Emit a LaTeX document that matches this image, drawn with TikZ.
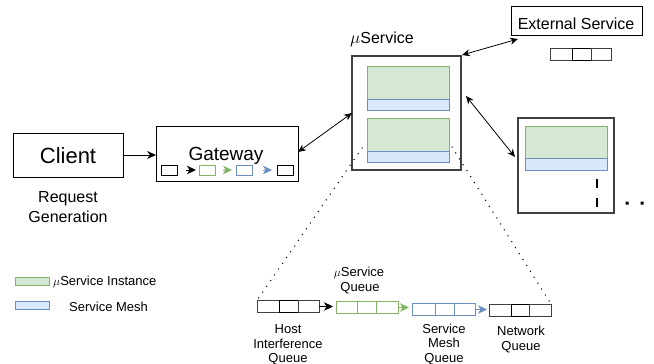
\documentclass[tikz,border=0pt]{standalone}
\usepackage{fontspec}
\setmainfont{Liberation Sans}
\usetikzlibrary{arrows.meta}
\definecolor{instfill}{HTML}{D5E8D4}
\definecolor{instline}{HTML}{82B366}
\definecolor{meshfill}{HTML}{DAE8FC}
\definecolor{meshline}{HTML}{6C8EBF}
\tikzset{
  fnt/.style={font=\fontsize{#1}{#1}\selectfont},
  box/.style={draw, line width=1pt, inner sep=0, outer sep=0},
  hostbox/.style={draw=black!75, line width=1.1pt, inner sep=0, outer sep=0},
  inst/.style={draw=instline, fill=instfill, line width=0.9pt, inner sep=0, outer sep=0, minimum width=82pt},
  mesh/.style={draw=meshline, fill=meshfill, line width=0.9pt, inner sep=0, outer sep=0, minimum width=82pt},
  cell/.style={draw=#1, line width=0.9pt, minimum height=12pt, inner sep=0, outer sep=0},
  gcell/.style={draw=#1, line width=0.9pt, minimum width=16pt, minimum height=10pt, inner sep=0, outer sep=0},
  link/.style={line width=0.8pt, {Stealth[length=8pt,width=7pt]}-{Stealth[length=8pt,width=7pt]}},
  flow/.style={draw=#1, line width=1pt, -{Stealth[length=9pt,width=8.5pt,inset=2.5pt]}},
  zoomline/.style={line width=1.5pt, line cap=round, dash pattern=on 0pt off 7pt},
  lbl/.style={inner sep=0, anchor=base},
}
\begin{document}
\begin{tikzpicture}[x=1pt, y=-1pt]
\useasboundingbox (0,0) rectangle (654,364);

% client and gateway
\node[box, minimum width=110pt, minimum height=44pt] (client) at (68,155) {};
\node[lbl, fnt=22] (clienttxt) at (68,163) {Client};
\node[lbl, fnt=16] (req1) at (68,202) {Request};
\node[lbl, fnt=16] (req2) at (68,222) {Generation};

\node[box, minimum width=142pt, minimum height=55pt] (gw) at (227,153.5) {};
\node[lbl, fnt=19] (gwtxt) at (226,160) {Gateway};
\node[gcell=black] (gq1) at (169,170) {};
\node[gcell=instline] (gq2) at (207,170) {};
\node[gcell=meshline] (gq3) at (244,170) {};
\node[gcell=black] (gq4) at (285,170) {};
\draw[flow=black, shorten <=9pt, shorten >=3pt] (gq1) -- (gq2);
\draw[flow=instline, shorten <=8pt, shorten >=4pt] (gq2) -- (gq3);
\draw[flow=meshline, shorten <=11pt, shorten >=5pt] (gq3) -- (gq4);

\draw[line width=0.9pt, -{Stealth[length=9pt,width=8pt]}] (client) -- (gw.west |- client);

% microservice host
\node[hostbox, minimum width=109pt, minimum height=114pt] (ms) at (406.5,113) {};
\node[lbl, fnt=16] (mstxt) at (382,43) {$\mu$Service};
\node[inst, minimum height=33pt] (msi1) at (408,82.5) {};
\node[mesh, minimum height=11pt] (msm1) at (408,104.5) {};
\node[inst, minimum height=33pt] (msi2) at (408,134.5) {};
\node[mesh, minimum height=11pt] (msm2) at (408,156.5) {};

% second host
\node[hostbox, minimum width=96pt, minimum height=95pt] (ms2) at (566,165.5) {};
\node[inst, minimum height=32pt] (ms2i) at (566,142) {};
\node[mesh, minimum height=12pt] (ms2m) at (566,164) {};
\draw[line width=2.6pt] (597,179) -- (597,188) (597,198) -- (597,207);
\fill (625.5,201.5) rectangle ++(3,3) (640.5,201.5) rectangle ++(3,3);

% external service
\node[box, minimum width=131pt, minimum height=29pt] (ext) at (576.5,20.5) {};
\node[lbl, fnt=16] (exttxt) at (576,29) {External Service};
\node[cell=black!75, minimum width=22pt] (eq1) at (561,54) {};
\node[cell=black, minimum width=19pt] (eq2) at (581.5,54) {};
\node[cell=black!75, minimum width=20pt] (eq3) at (601,54) {};

% links between services
\coordinate (gwlink) at (298,152);
\coordinate (mslinkw) at (352,113);
\coordinate (mslinkn) at (462,55);
\coordinate (extlink) at (518,39);
\coordinate (mslinke) at (466,96);
\coordinate (ms2link) at (515,157);
\draw[link] (gwlink) -- (mslinkw);
\draw[link] (mslinkn) -- (extlink);
\draw[link] (mslinke) -- (ms2link);

% queues inside a host
\node[cell=black!75, minimum width=22pt] (hq1) at (268,306.5) {};
\node[cell=black, minimum width=19pt] (hq2) at (288.5,306.5) {};
\node[cell=black!75, minimum width=21pt] (hq3) at (308.5,306.5) {};

\node[cell=instline, minimum width=21pt] (sq1) at (346.5,307.5) {};
\node[cell=instline, minimum width=19pt] (sq2) at (366.5,307.5) {};
\node[cell=instline, minimum width=22pt] (sq3) at (387,307.5) {};

\node[cell=meshline, minimum width=23pt] (mq1) at (423.5,309.5) {};
\node[cell=meshline, minimum width=19pt] (mq2) at (444.5,309.5) {};
\node[cell=meshline, minimum width=21pt] (mq3) at (464.5,309.5) {};

\node[cell=black!75, minimum width=22pt] (nq1) at (500,310) {};
\node[cell=black, minimum width=18pt] (nq2) at (520,310) {};
\node[cell=black!75, minimum width=22pt] (nq3) at (540,310) {};

\draw[flow=black, shorten >=3pt] (hq3.east) -- (sq1.west |- hq3.east);
\draw[flow=instline, shorten >=3pt] (sq3.east) -- (mq1.west |- sq3.east);
\draw[flow=meshline, shorten >=2pt] (mq3.east) -- (nq1.west |- mq3.east);

\node[lbl, fnt=13] (hl1) at (288,333) {Host};
\node[lbl, fnt=13] (hl2) at (288,348) {Interference};
\node[lbl, fnt=13] (hl3) at (288,362) {Queue};
\node[lbl, fnt=13] (sl1) at (359,276) {$\mu$Service};
\node[lbl, fnt=13] (sl2) at (360,291) {Queue};
\node[lbl, fnt=13] (ml1) at (444,333) {Service};
\node[lbl, fnt=13] (ml2) at (444,347) {Mesh};
\node[lbl, fnt=13] (ml3) at (444,362) {Queue};
\node[lbl, fnt=13] (nl1) at (521,335) {Network};
\node[lbl, fnt=13] (nl2) at (521,350) {Queue};

% zoom lines from the host to its queues
\coordinate (zl) at (362,148);
\coordinate (zr) at (452,147);
\draw[zoomline] (zl) -- (hq1.north west);
\draw[zoomline] (zr) -- (nq3.north east);

% legend
\node[inst, minimum width=34pt, minimum height=8pt] (leginst) at (32,281) {};
\node[mesh, minimum width=34pt, minimum height=8pt] (legmesh) at (32,305) {};
\node[lbl, fnt=13, anchor=base west] (leginsttxt) at (53,285) {$\mu$Service Instance};
\node[lbl, fnt=13, anchor=base west] (legmeshtxt) at (69,311) {Service Mesh};
\end{tikzpicture}
\end{document}
